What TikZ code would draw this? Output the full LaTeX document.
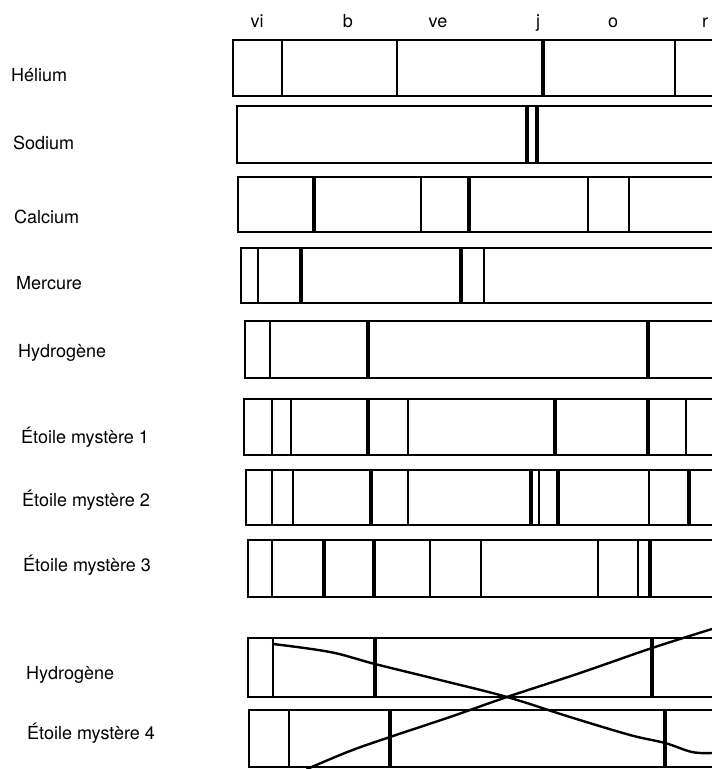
\documentclass[tikz,border=0pt]{standalone}
\usepackage{fontspec}
\setmainfont{TeX Gyre Heros}
\begin{document}
\begin{tikzpicture}[x=1pt,y=-1pt,
  bandline/.style={line width=1.3pt,line join=miter},
  thinln/.style={line width=1.4pt},
  thickln/.style={line width=3.2pt},
  curveln/.style={line width=2.4pt,line cap=round},
  lab/.style={anchor=west,inner sep=0pt,font=\fontsize{18}{21}\selectfont},
  head/.style={anchor=base,inner sep=0pt,font=\fontsize{18}{21}\selectfont}]
\useasboundingbox (0,0) rectangle (712,769);
\newcommand\spband[3]{\draw[bandline] (712,#1) -- (#3,#1) -- (#3,#2) -- (712,#2);}
\newcommand\tn[3]{\draw[thinln] (#1,#2) -- (#1,#3);}
\newcommand\tk[3]{\draw[thickln] (#1,#2) -- (#1,#3);}
% header
\node[head] (hvi) at (257,27) {vi};
\node[head] (hb) at (348,27) {b};
\node[head] (hve) at (438,27) {ve};
\node[head] (hj) at (538,27) {j};
\node[head] (ho) at (613,27) {o};
\node[head] (hr) at (705,27) {r};
% labels
\node[lab] (l1) at (11,75) {Hélium};
\node[lab] (l2) at (13,143) {Sodium};
\node[lab] (l3) at (14,217) {Calcium};
\node[lab] (l4) at (16,283) {Mercure};
\node[lab] (l5) at (18,353) {Hydrogène};
\node[lab] (l6) at (21,437) {Étoile mystère 1};
\node[lab] (l7) at (22,500) {Étoile mystère 2};
\node[lab] (l8) at (23,565) {Étoile mystère 3};
\node[lab] (l9) at (26,675) {Hydrogène};
\node[lab] (l10) at (27,733) {Étoile mystère 4};
% Helium
\spband{40}{96}{233}
\tn{282}{40}{96}\tn{397}{40}{96}\tk{543}{40}{96}\tn{675}{40}{96}
% Sodium
\spband{106}{163}{237}
\tk{527}{106}{163}\tk{537}{106}{163}
% Calcium
\spband{177}{232}{238}
\tk{314}{177}{232}\tn{421}{177}{232}\tk{469}{177}{232}\tn{588}{177}{232}\tn{629}{177}{232}
% Mercure
\spband{248}{303}{241}
\tn{258}{248}{303}\tk{301}{248}{303}\tk{461}{248}{303}\tn{484}{248}{303}
% Hydrogene
\spband{321}{378}{245}
\tn{270}{321}{378}\tk{368}{321}{378}\tk{648}{321}{378}
% Etoile 1
\spband{399}{455}{244}
\tn{272}{399}{455}\tn{291}{399}{455}\tk{368}{399}{455}\tn{408}{399}{455}\tk{555}{399}{455}\tk{648}{399}{455}\tn{686}{399}{455}
% Etoile 2
\spband{470}{525}{246}
\tn{272}{470}{525}\tn{293}{470}{525}\tk{371}{470}{525}\tn{408}{470}{525}\tk{531}{470}{525}\tn{539}{470}{525}\tk{558}{470}{525}\tn{649}{470}{525}\tk{689}{470}{525}
% Etoile 3
\spband{540}{597}{248}
\tn{272}{540}{597}\tk{324}{540}{597}\tk{374}{540}{597}\tn{430}{540}{597}\tn{481}{540}{597}\tn{598}{540}{597}\tn{638}{540}{597}\tk{650}{540}{597}
% Hydrogene (bottom)
\spband{638}{697}{248}
\tn{273}{638}{697}\tk{375}{638}{697}\tk{652}{638}{697}
% Etoile 4
\spband{710}{767}{249}
\tn{289}{710}{767}\tk{390}{710}{767}\tk{665}{710}{767}
% curves
\draw[curveln] plot[smooth,tension=0.6] coordinates {(273,644) (330,652) (375,664) (440,680) (507,697) (570,717) (630,735) (665,743) (692,752) (712,753)};
\draw[curveln] plot[smooth,tension=0.6] coordinates {(307,769) (350,751) (390,737) (450,717) (507,697) (580,673) (652,648) (712,629)};
\end{tikzpicture}
\end{document}
